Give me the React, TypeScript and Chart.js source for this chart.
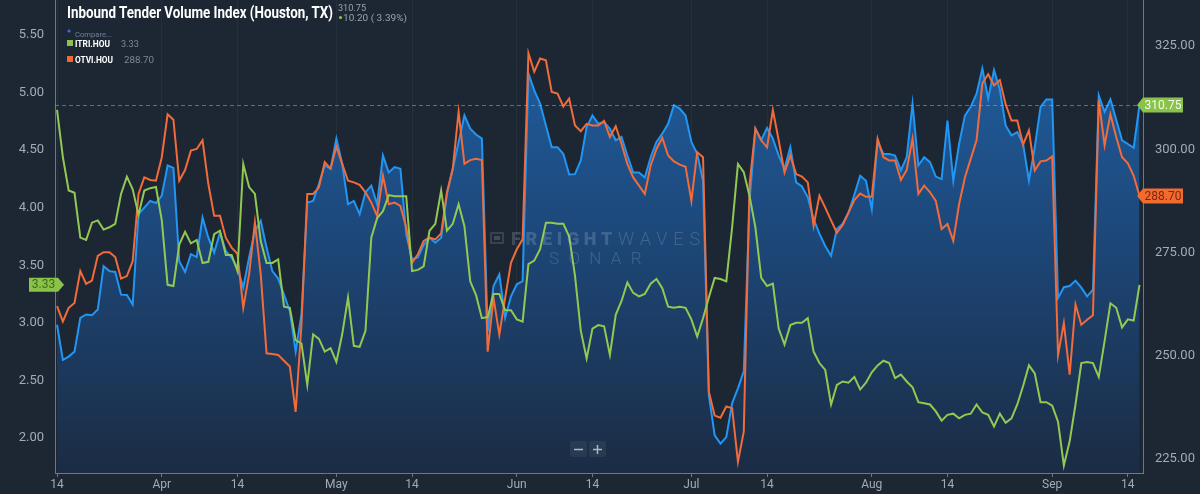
import React, { useEffect, useRef } from "react";
import { Chart, registerables } from "chart.js";

Chart.register(...registerables);

// ---- data (daily, day 0 = Mar 14) ----
const tickDays = [0, 18, 31, 48, 61, 79, 92, 109, 122, 140, 153, 171, 184];
const tickLabels = ["14", "Apr", "14", "May", "14", "Jun", "14", "Jul", "14", "Aug", "14", "Sep", "14"];
const leftTicks = [2.0, 2.5, 3.0, 3.5, 4.0, 4.5, 5.0, 5.5];
const rightTicks = [225, 250, 275, 300, 325];

// Inbound Tender Volume Index (Houston, TX) — right axis
const itvi = [
  257.5, 249.0, 249.8, 251.0, 259.2, 260.0, 259.8, 261.2, 271.7, 270.5,
  270.3, 264.8, 264.7, 262.4, 284.3, 285.9, 287.5, 287.0, 288.8, 296.1,
  295.5, 272.9, 270.3, 274.6, 273.9, 283.5, 278.6, 275.0, 279.8, 275.4,
  273.8, 271.3, 266.5, 273.8, 280.2, 282.7, 276.2, 270.5, 268.7, 264.8,
  260.8, 251.0, 260.0, 287.1, 287.5, 291.6, 296.1, 295.3, 302.6, 296.5,
  286.7, 287.5, 284.3, 289.6, 291.2, 286.7, 298.5, 294.4, 295.7, 295.3,
  279.4, 273.4, 273.8, 276.8, 278.6, 277.4, 278.6, 289.2, 295.3, 301.8,
  308.2, 305.0, 303.6, 302.6, 255.9, 266.9, 269.7, 259.2, 264.4, 267.3,
  268.1, 318.4, 314.3, 311.1, 305.8, 300.5, 300.5, 298.9, 293.9, 294.0,
  297.3, 305.4, 308.2, 306.2, 306.6, 305.0, 302.2, 303.0, 298.5, 294.4,
  294.4, 293.2, 298.1, 301.8, 303.8, 306.2, 310.7, 309.9, 308.2, 301.8,
  298.9, 292.4, 240.5, 230.7, 228.7, 230.3, 238.5, 242.1, 246.2, 287.5,
  305.0, 302.2, 305.2, 302.6, 298.5, 295.3, 300.5, 292.0, 291.0, 288.4,
  283.1, 279.6, 276.6, 274.2, 280.7, 282.0, 284.7, 289.0, 293.6, 292.4,
  285.5, 301.8, 298.9, 298.9, 298.5, 294.9, 298.1, 311.1, 296.1, 298.1,
  296.9, 293.4, 292.8, 307.0, 292.4, 301.3, 308.2, 310.3, 313.5, 319.6,
  312.3, 319.2, 314.5, 305.8, 303.4, 304.2, 301.3, 292.4, 300.5, 310.3,
  312.1, 312.1, 264.0, 266.6, 266.9, 268.2, 266.5, 264.4, 266.0, 313.1,
  309.1, 312.1, 307.2, 302.2, 301.3, 300.4, 310.75,
];

// OTVI.HOU — right axis
const otvi = [
  262.0, 258.3, 261.6, 262.8, 270.5, 267.4, 268.2, 274.2, 275.1, 275.1,
  273.9, 268.7, 269.3, 272.9, 289.2, 293.2, 292.6, 292.4, 298.1, 308.5,
  307.2, 292.4, 295.0, 299.7, 300.1, 302.2, 291.6, 283.9, 283.9, 278.6,
  276.2, 274.7, 261.6, 269.7, 282.3, 269.7, 250.6, 250.4, 250.2, 248.8,
  247.4, 236.4, 257.5, 289.2, 289.2, 290.8, 296.9, 295.3, 300.7, 296.5,
  292.4, 292.0, 291.4, 289.6, 287.1, 283.9, 293.6, 286.7, 287.1, 286.3,
  281.1, 272.5, 274.6, 277.8, 278.6, 278.2, 279.6, 289.6, 295.3, 309.1,
  296.5, 297.4, 297.7, 297.4, 251.0, 264.0, 255.1, 264.0, 272.5, 275.8,
  278.2, 323.3, 318.8, 322.0, 321.6, 313.9, 313.5, 310.4, 312.3, 305.8,
  304.4, 306.2, 305.8, 305.8, 306.9, 303.0, 305.6, 301.3, 296.5, 293.2,
  291.2, 289.2, 296.1, 300.1, 302.8, 298.5, 297.1, 296.3, 295.8, 287.5,
  299.3, 298.1, 241.3, 235.5, 235.0, 237.7, 237.3, 224.3, 231.6, 291.6,
  305.0, 302.2, 300.5, 309.5, 302.2, 294.4, 298.5, 294.0, 293.4, 292.0,
  281.5, 288.8, 285.9, 282.8, 279.8, 281.7, 284.7, 287.7, 289.3, 288.5,
  288.5, 302.6, 298.1, 297.3, 297.3, 292.6, 295.0, 302.6, 289.2, 291.2,
  289.6, 287.5, 280.7, 281.9, 277.8, 286.7, 293.2, 297.7, 302.2, 316.0,
  318.2, 315.5, 316.8, 310.9, 307.0, 307.0, 301.2, 304.6, 294.9, 297.1,
  297.3, 298.3, 250.2, 257.9, 245.4, 262.4, 257.5, 258.7, 259.8, 311.9,
  301.0, 308.5, 303.0, 298.1, 296.6, 293.6, 288.7,
];

// ITRI.HOU — left axis
const itri = [
  4.85, 4.44, 4.15, 4.13, 3.74, 3.72, 3.87, 3.89, 3.81, 3.83,
  3.86, 4.12, 4.27, 4.16, 3.94, 4.15, 4.17, 4.18, 3.89, 3.33,
  3.32, 3.68, 3.79, 3.69, 3.72, 3.52, 3.53, 3.77, 3.80, 3.59,
  3.59, 3.45, 4.38, 4.18, 4.12, 3.71, 3.52, 3.52, 3.55, 3.14,
  3.13, 2.85, 2.82, 2.46, 2.90, 2.86, 2.75, 2.78, 2.66, 2.90,
  3.22, 2.80, 2.79, 2.93, 3.74, 3.91, 3.97, 4.11, 4.10, 4.10,
  4.10, 3.45, 3.46, 3.49, 3.80, 3.86, 4.15, 3.80, 3.86, 4.03,
  3.84, 3.36, 3.24, 3.04, 3.05, 3.25, 3.25, 3.11, 3.11, 3.03,
  3.01, 3.51, 3.54, 3.64, 3.87, 3.87, 3.86, 3.86, 3.75, 3.41,
  2.93, 2.69, 2.95, 2.98, 2.97, 2.72, 3.07, 3.19, 3.35, 3.26,
  3.23, 3.25, 3.34, 3.38, 3.30, 3.14, 3.13, 3.14, 3.13, 3.03,
  2.88, 3.04, 3.22, 3.39, 3.38, 3.36, 3.83, 4.38, 4.31, 4.10,
  3.83, 3.39, 3.32, 3.34, 2.95, 2.81, 2.98, 3.00, 3.00, 3.04,
  2.75, 2.65, 2.59, 2.29, 2.46, 2.49, 2.48, 2.53, 2.42, 2.48,
  2.57, 2.63, 2.67, 2.65, 2.52, 2.55, 2.49, 2.44, 2.31, 2.30,
  2.29, 2.23, 2.15, 2.20, 2.21, 2.17, 2.20, 2.21, 2.29, 2.22,
  2.20, 2.10, 2.21, 2.13, 2.17, 2.29, 2.45, 2.63, 2.56, 2.31,
  2.31, 2.28, 2.14, 1.76, 1.97, 2.29, 2.65, 2.66, 2.65, 2.53,
  2.84, 3.17, 3.13, 2.96, 3.03, 3.02, 3.33,
];

const title = "Inbound Tender Volume Index (Houston, TX)";
const headValue = "310.75";
const headChange = "10.20 ( 3.39%)";

const BG = "#1d2734";
const BLUE = "#2196f3";
const ORANGE = "#f26b3a";
const GREEN = "#93c952";
const AXIS = "#6e7882";
const LABEL = "#a3abb3";

function drawTag(
  c: CanvasRenderingContext2D,
  rectL: number,
  rectR: number,
  tipX: number,
  yc: number,
  h: number,
  bg: string,
  text: string,
  color: string
) {
  c.save();
  c.beginPath();
  if (tipX < rectL) {
    c.moveTo(tipX, yc);
    c.lineTo(rectL, yc - h / 2);
    c.lineTo(rectR, yc - h / 2);
    c.lineTo(rectR, yc + h / 2);
    c.lineTo(rectL, yc + h / 2);
  } else {
    c.moveTo(rectL, yc - h / 2);
    c.lineTo(rectR, yc - h / 2);
    c.lineTo(tipX, yc);
    c.lineTo(rectR, yc + h / 2);
    c.lineTo(rectL, yc + h / 2);
  }
  c.closePath();
  c.fillStyle = bg;
  c.fill();
  c.fillStyle = color;
  c.font = "12px Roboto";
  c.textAlign = "center";
  c.textBaseline = "middle";
  c.fillText(text, (rectL + rectR) / 2, yc + 0.5);
  c.restore();
}

function fitText(c: CanvasRenderingContext2D, text: string, x: number, y: number, target: number) {
  (c as any).letterSpacing = "0px";
  const w = c.measureText(text).width;
  const sp = Math.max(0, (target - w) / text.length);
  (c as any).letterSpacing = sp.toFixed(2) + "px";
  c.fillText(text, x, y);
  (c as any).letterSpacing = "0px";
}

const overlayPlugin = {
  id: "sonarOverlay",
  afterDatasetsDraw(chart: any) {
    const c: CanvasRenderingContext2D = chart.ctx;
    const area = chart.chartArea;
    const yR = chart.scales.yR;
    // watermark
    c.save();
    c.fillStyle = "rgba(190,205,225,0.22)";
    c.strokeStyle = "rgba(190,205,225,0.22)";
    c.lineWidth = 1.5;
    c.strokeRect(491, 233, 12, 10);
    c.fillRect(494, 236, 6, 4);
    c.textAlign = "left";
    c.textBaseline = "alphabetic";
    c.font = "900 18px Roboto";
    fitText(c, "FREIGHT", 511, 245, 106);
    c.font = "300 18px Roboto";
    fitText(c, "WAVES", 618, 245, 88);
    c.font = "300 17px Roboto";
    fitText(c, "SONAR", 549, 264, 102);
    c.restore();
    // dashed last-value line
    const y = yR.getPixelForValue(itvi[itvi.length - 1]);
    c.save();
    c.strokeStyle = "rgba(170,180,190,0.5)";
    c.lineWidth = 1;
    c.setLineDash([4, 3]);
    c.beginPath();
    c.moveTo(area.left, Math.round(y) + 0.5);
    c.lineTo(area.right, Math.round(y) + 0.5);
    c.stroke();
    c.restore();
  },
  afterDraw(chart: any) {
    const c: CanvasRenderingContext2D = chart.ctx;
    const yR = chart.scales.yR;
    const yL = chart.scales.yL;
    const right = chart.chartArea.right;
    const lastB = itvi[itvi.length - 1];
    const lastO = otvi[otvi.length - 1];
    const lastG = itri[itri.length - 1];
    drawTag(c, right, right + 40, right - 6, yR.getPixelForValue(lastB), 15, "#8bc34a", lastB.toFixed(2), "#f4f9ee");
    drawTag(c, right, right + 40, right - 6, yR.getPixelForValue(lastO), 15, "#f26a2e", lastO.toFixed(2), "#7a2a0c");
    drawTag(c, 29, 58, 64, yL.getPixelForValue(lastG), 14, "#8bc34a", lastG.toFixed(2), "#3f6a1c");
  },
};

export default function App() {
  const canvasRef = useRef<HTMLCanvasElement | null>(null);

  useEffect(() => {
    const canvas = canvasRef.current;
    if (!canvas) return;
    Chart.defaults.font.family = "Roboto";
    const chart = new Chart(canvas, {
      type: "line",
      data: {
        datasets: [
          {
            label: "ITRI.HOU",
            data: itri.map((y, i) => ({ x: i, y })),
            yAxisID: "yL",
            borderColor: GREEN,
            borderWidth: 2,
            pointRadius: 0,
            fill: false,
            tension: 0,
            order: 1,
          },
          {
            label: "OTVI.HOU",
            data: otvi.map((y, i) => ({ x: i, y })),
            yAxisID: "yR",
            borderColor: ORANGE,
            borderWidth: 2,
            pointRadius: 0,
            fill: false,
            tension: 0,
            order: 2,
          },
          {
            label: "ITVI.HOU",
            data: itvi.map((y, i) => ({ x: i, y })),
            yAxisID: "yR",
            borderColor: BLUE,
            borderWidth: 2,
            pointRadius: 0,
            fill: "start",
            tension: 0,
            order: 3,
            backgroundColor: (ctx: any) => {
              const { chart } = ctx;
              const area = chart.chartArea;
              if (!area) return "rgba(33,100,170,0.6)";
              const g = chart.ctx.createLinearGradient(0, area.top, 0, area.bottom);
              g.addColorStop(0, "#2163a6");
              g.addColorStop(0.45, "#1d4a7e");
              g.addColorStop(1, "#1b2c44");
              return g;
            },
          },
        ],
      },
      options: {
        animation: false,
        responsive: false,
        devicePixelRatio: window.devicePixelRatio || 1,
        layout: { padding: 0 },
        plugins: {
          legend: { display: false },
          tooltip: { enabled: false },
        },
        scales: {
          x: {
            type: "linear",
            min: -0.35,
            max: 186.6,
            grid: {
              color: "rgba(255,255,255,0.045)",
              tickColor: AXIS,
              tickLength: 4,
            },
            border: { color: AXIS },
            ticks: {
              color: LABEL,
              font: { size: 12 },
              padding: 1,
              maxRotation: 0,
              autoSkip: false,
              callback: (v: any) => {
                const i = tickDays.indexOf(Number(v));
                return i >= 0 ? tickLabels[i] : "";
              },
            },
            afterBuildTicks: (scale: any) => {
              scale.ticks = tickDays.map((v) => ({ value: v }));
            },
            afterFit: (scale: any) => {
              scale.height = 21;
              scale.paddingLeft = 0;
              scale.paddingRight = 0;
            },
          },
          yL: {
            type: "linear",
            position: "left",
            min: 1.6945,
            max: 5.8055,
            grid: { display: false },
            border: { color: AXIS },
            ticks: {
              color: LABEL,
              font: { size: 13 },
              padding: 3,
              callback: (v: any) => Number(v).toFixed(2),
            },
            afterBuildTicks: (scale: any) => {
              scale.ticks = leftTicks.map((v) => ({ value: v }));
            },
            afterFit: (scale: any) => {
              scale.width = 55;
              scale.paddingTop = 0;
              scale.paddingBottom = 0;
            },
          },
          yR: {
            type: "linear",
            position: "right",
            min: 221.59,
            max: 336.19,
            grid: { display: false },
            border: { color: AXIS },
            ticks: {
              color: LABEL,
              font: { size: 13 },
              padding: 4,
              callback: (v: any) => Number(v).toFixed(2),
            },
            afterBuildTicks: (scale: any) => {
              scale.ticks = rightTicks.map((v) => ({ value: v }));
            },
            afterFit: (scale: any) => {
              scale.width = 57;
              scale.paddingTop = 0;
              scale.paddingBottom = 0;
            },
          },
        },
      },
      plugins: [overlayPlugin],
    });
    return () => chart.destroy();
  }, []);

  return (
    <div
      style={{
        position: "absolute",
        left: 0,
        top: 0,
        width: 1200,
        height: 494,
        background: BG,
        overflow: "hidden",
        fontFamily: "Roboto",
      }}
    >
      <canvas ref={canvasRef} width={1200} height={494} style={{ position: "absolute", left: 0, top: 0, width: 1200, height: 494 }} />
      <svg
        width={1200}
        height={494}
        style={{ position: "absolute", left: 0, top: 0, pointerEvents: "none" }}
        fontFamily="Roboto"
      >
        <text x={67} y={18} fill="#ffffff" fontWeight={700} fontSize={17} textLength={266} lengthAdjust="spacingAndGlyphs">
          {title}
        </text>
        <text x={338} y={11} fill="#98a2ac" fontSize={9.5} textLength={28} lengthAdjust="spacingAndGlyphs">
          {headValue}
        </text>
        <circle cx={340.5} cy={17.5} r={1.6} fill="#8bc34a" />
        <text x={343} y={20.5} fill="#98a2ac" fontSize={9.5} textLength={64} lengthAdjust="spacingAndGlyphs">
          {headChange}
        </text>
        <circle cx={69} cy={31} r={1.6} fill="#3a70c8" />
        <text x={75} y={36.5} fill="#6f8299" fontSize={8} textLength={37} lengthAdjust="spacingAndGlyphs">
          Compare...
        </text>
        <rect x={67} y={40} width={6} height={6} fill="#8bc34a" />
        <text x={75} y={47} fill="#ffffff" fontWeight={700} fontSize={9} textLength={35} lengthAdjust="spacingAndGlyphs">
          ITRI.HOU
        </text>
        <text x={121} y={47} fill="#7c8792" fontSize={9.5} textLength={18} lengthAdjust="spacingAndGlyphs">
          {itri[itri.length - 1].toFixed(2)}
        </text>
        <rect x={67} y={56} width={6} height={6} fill="#f26a2e" />
        <text x={75} y={62.5} fill="#ffffff" fontWeight={700} fontSize={9} textLength={38} lengthAdjust="spacingAndGlyphs">
          OTVI.HOU
        </text>
        <text x={124} y={62.5} fill="#7c8792" fontSize={9.5} textLength={30} lengthAdjust="spacingAndGlyphs">
          {otvi[otvi.length - 1].toFixed(2)}
        </text>
        <rect x={570} y={441} width={17} height={16} rx={2} fill="rgba(255,255,255,0.06)" />
        <rect x={589} y={441} width={17} height={16} rx={2} fill="rgba(255,255,255,0.06)" />
        <line x1={574} y1={449.5} x2={583} y2={449.5} stroke="#aeb6be" strokeWidth={1.5} />
        <line x1={593} y1={449.5} x2={602} y2={449.5} stroke="#aeb6be" strokeWidth={1.5} />
        <line x1={597.5} y1={445} x2={597.5} y2={454} stroke="#aeb6be" strokeWidth={1.5} />
      </svg>
    </div>
  );
}
